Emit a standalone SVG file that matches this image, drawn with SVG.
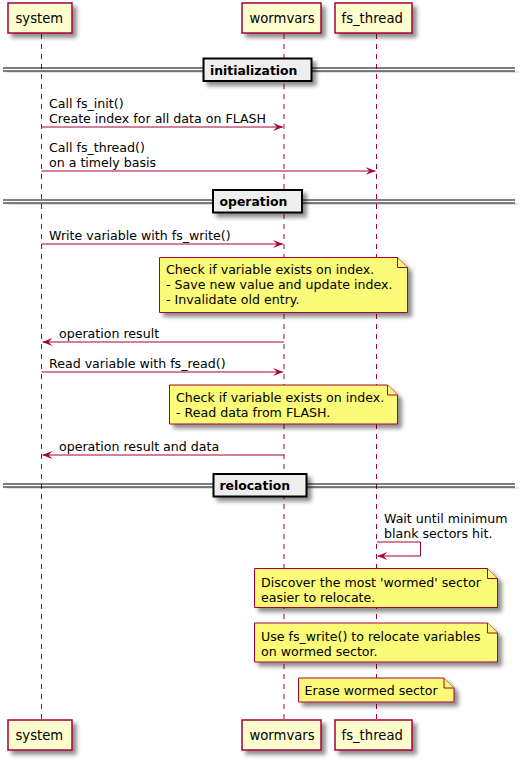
<svg xmlns="http://www.w3.org/2000/svg" width="526" height="760" viewBox="0 0 526 760">
<defs>
<filter id="sh" x="-10%" y="-10%" width="130%" height="150%">
<feGaussianBlur in="SourceAlpha" stdDeviation="2"/>
<feOffset dx="4" dy="4" result="b"/>
<feComponentTransfer><feFuncA type="linear" slope="0.45"/></feComponentTransfer>
<feMerge><feMergeNode/><feMergeNode in="SourceGraphic"/></feMerge>
</filter>
<marker id="ah" viewBox="0 0 10 8" refX="10" refY="4" markerWidth="10" markerHeight="8" markerUnits="userSpaceOnUse" orient="auto">
<polygon points="0,0 10,4 0,8 4,4" fill="#A80036"/>
</marker>
</defs>
<style>
text{font-family:"DejaVu Sans","Noto Sans",sans-serif;fill:#000}
.pn{font-size:13.2px}
.t{font-size:12.6px}
.dv{font-size:12.4px;font-weight:bold}
.box{fill:#FEFECE;stroke:#A80036;stroke-width:1.5}
.life{stroke:#A80036;stroke-width:1;stroke-dasharray:5,5;fill:none}
.note{fill:#FBFB77;stroke:#A80036;stroke-width:1}
.msg{stroke:#A80036;stroke-width:1;fill:none;marker-end:url(#ah)}
.dl{stroke:#000;stroke-width:1}
.db{fill:#EEEEEE;stroke:#000;stroke-width:2}
</style>
<rect width="526" height="760" fill="#fff"/>
<g id="lifelines">
<line class="life" x1="41.5" y1="34" x2="41.5" y2="720"/>
<line class="life" x1="284" y1="34" x2="284" y2="720"/>
<line class="life" x1="376.5" y1="34" x2="376.5" y2="720"/>
</g>
<g id="participant-system">
<rect class="box" x="8" y="3" width="64" height="30" filter="url(#sh)"/>
<text class="pn" x="15.5" y="23">system</text>
<rect class="box" x="8" y="720" width="64" height="30" filter="url(#sh)"/>
<text class="pn" x="15.5" y="740">system</text>
</g>
<g id="participant-wormvars">
<rect class="box" x="242" y="3" width="79" height="30" filter="url(#sh)"/>
<text class="pn" x="249.5" y="23">wormvars</text>
<rect class="box" x="242" y="720" width="79" height="30" filter="url(#sh)"/>
<text class="pn" x="249.5" y="740">wormvars</text>
</g>
<g id="participant-fs_thread">
<rect class="box" x="335" y="3" width="77" height="30" filter="url(#sh)"/>
<text class="pn" x="341.5" y="23">fs_thread</text>
<rect class="box" x="335" y="720" width="77" height="30" filter="url(#sh)"/>
<text class="pn" x="341.5" y="740">fs_thread</text>
</g>
<g id="divider-initialization">
<g filter="url(#sh)">
<line class="dl" x1="3" y1="68" x2="515" y2="68"/>
<line class="dl" x1="3" y1="71" x2="515" y2="71"/>
</g>
<rect class="db" x="203.5" y="58.5" width="108" height="22.5" filter="url(#sh)"/>
<text class="dv" x="210" y="74.5">initialization</text>
</g>
<g id="divider-operation">
<g filter="url(#sh)">
<line class="dl" x1="3" y1="200" x2="515" y2="200"/>
<line class="dl" x1="3" y1="203" x2="515" y2="203"/>
</g>
<rect class="db" x="213" y="190" width="89" height="22.5" filter="url(#sh)"/>
<text class="dv" x="219.5" y="206">operation</text>
</g>
<g id="divider-relocation">
<g filter="url(#sh)">
<line class="dl" x1="3" y1="484" x2="515" y2="484"/>
<line class="dl" x1="3" y1="487" x2="515" y2="487"/>
</g>
<rect class="db" x="213.5" y="474" width="93" height="22.5" filter="url(#sh)"/>
<text class="dv" x="219.5" y="490">relocation</text>
</g>
<g id="connectors">
<line class="msg" x1="41.5" y1="127" x2="283" y2="127"/>
<text class="t" x="49" y="108">Call fs_init()</text>
<text class="t" x="49" y="122.5">Create index for all data on FLASH</text>
<line class="msg" x1="41.5" y1="171" x2="375.5" y2="171"/>
<text class="t" x="49" y="152">Call fs_thread()</text>
<text class="t" x="49" y="166.5">on a timely basis</text>
<line class="msg" x1="41.5" y1="244" x2="283" y2="244"/>
<text class="t" x="49" y="239.5">Write variable with fs_write()</text>
<line class="msg" x1="284" y1="342" x2="42.5" y2="342"/>
<text class="t" x="59" y="337.5">operation result</text>
<line class="msg" x1="41.5" y1="372" x2="283" y2="372"/>
<text class="t" x="49" y="367.5">Read variable with fs_read()</text>
<line class="msg" x1="284" y1="455" x2="42.5" y2="455"/>
<text class="t" x="59" y="450.5">operation result and data</text>
<polyline class="msg" points="377,542 420.5,542 420.5,556 377.5,556"/>
<text class="t" x="384" y="523">Wait until minimum</text>
<text class="t" x="384" y="537.5">blank sectors hit.</text>
</g>
<g id="note-write">
<path class="note" filter="url(#sh)" d="M159.5,257.5 L159.5,312.5 L407.5,312.5 L407.5,267.5 L397.5,257.5 Z"/>
<path class="note" d="M397.5,257.5 L397.5,267.5 L407.5,267.5"/>
<text class="t" x="166" y="274">Check if variable exists on index.</text>
<text class="t" x="166" y="289">- Save new value and update index.</text>
<text class="t" x="166" y="304">- Invalidate old entry.</text>
</g>
<g id="note-read">
<path class="note" filter="url(#sh)" d="M169.5,385 L169.5,424 L397.5,424 L397.5,395 L387.5,385 Z"/>
<path class="note" d="M387.5,385 L387.5,395 L397.5,395"/>
<text class="t" x="176" y="402">Check if variable exists on index.</text>
<text class="t" x="176" y="417">- Read data from FLASH.</text>
</g>
<g id="note-discover">
<path class="note" filter="url(#sh)" d="M254.5,568.5 L254.5,607.5 L497.5,607.5 L497.5,578.5 L487.5,568.5 Z"/>
<path class="note" d="M487.5,568.5 L487.5,578.5 L497.5,578.5"/>
<text class="t" x="261" y="586.5">Discover the most 'wormed' sector</text>
<text class="t" x="261" y="601.5">easier to relocate.</text>
</g>
<g id="note-relocate">
<path class="note" filter="url(#sh)" d="M254.5,623 L254.5,662 L497.5,662 L497.5,633 L487.5,623 Z"/>
<path class="note" d="M487.5,623 L487.5,633 L497.5,633"/>
<text class="t" x="261" y="641">Use fs_write() to relocate variables</text>
<text class="t" x="261" y="656">on wormed sector.</text>
</g>
<g id="note-erase">
<path class="note" filter="url(#sh)" d="M298.5,678 L298.5,702 L454,702 L454,688 L444,678 Z"/>
<path class="note" d="M444,678 L444,688 L454,688"/>
<text class="t" x="304.5" y="694.5">Erase wormed sector</text>
</g>
</svg>
